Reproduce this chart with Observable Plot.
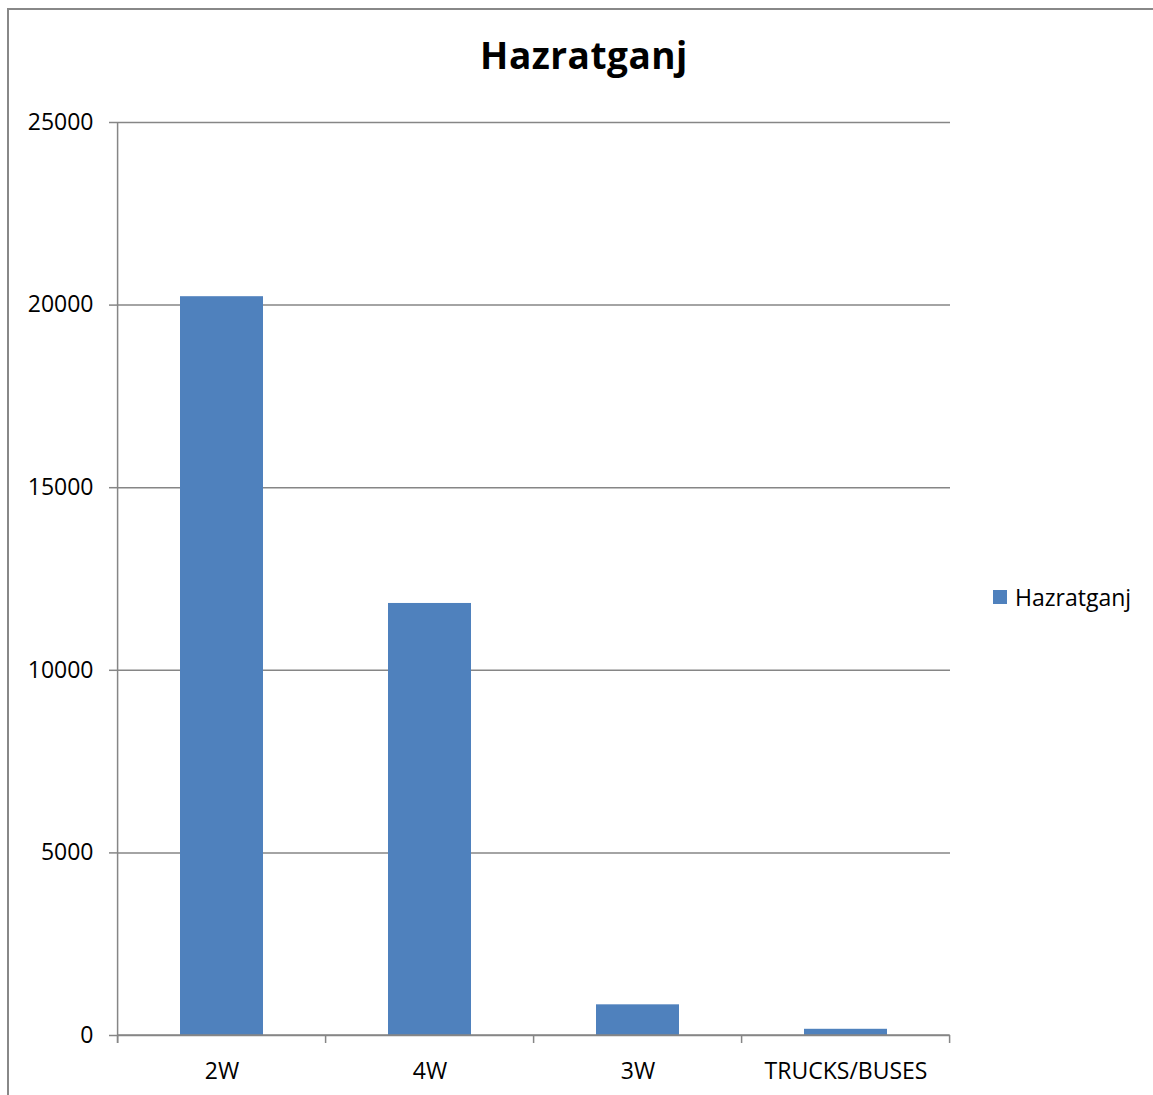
<!DOCTYPE html>
<html>
<head>
<meta charset="utf-8">
<script src="https://cdn.jsdelivr.net/npm/d3@7"></script>
<script src="https://cdn.jsdelivr.net/npm/@observablehq/plot@0.6"></script>
<style>
  html, body { margin: 0; padding: 0; background: #fff; overflow: hidden; width: 1153px; height: 1095px; }
  #wrap { position: relative; width: 1153px; height: 1095px; font-family: "Open Sans", sans-serif; }
  #border { position: absolute; left: 7px; top: 8px; width: 1300px; height: 1300px; border: 2px solid #888; box-sizing: border-box; }
  #title { position: absolute; left: 0; width: 1168px; top: 29px; text-align: center; font-size: 37px; font-weight: bold; color: #000; letter-spacing: 0.5px; }
  #legend { position: absolute; left: 993px; top: 581px; font-size: 23px; color: #000; display: flex; align-items: center; }
  #legend .sw { width: 14px; height: 14px; background: #4F81BD; margin-right: 8px; }
  #chart { position: absolute; left: 0; top: 0; }
</style>
</head>
<body>
<div id="wrap">
  <div id="border"></div>
  <div id="chart"></div>
  <div id="title">Hazratganj</div>
  <div id="legend"><div class="sw"></div><span>Hazratganj</span></div>
</div>
<script>
const categories = ["2W", "4W", "3W", "TRUCKS/BUSES"];
const values = [20230, 11830, 840, 170];
const yTicks = [0, 5000, 10000, 15000, 20000, 25000];
const seriesName = "Hazratganj";

const data = categories.map((c, i) => ({category: c, value: values[i], series: seriesName}));
const gray = "#868686";

const boundaries = (index, scales, values, dimensions) => {
  const g = d3.create("svg:g");
  const step = scales.x(categories[1]) - scales.x(categories[0]);
  const gapHalf = step * 0.3;
  const y0 = scales.y(0);
  const xs = categories.map(c => scales.x(c) - gapHalf);
  xs.push(scales.x(categories[categories.length - 1]) + step - gapHalf);
  for (const x of xs) {
    g.append("line").attr("x1", x).attr("x2", x).attr("y1", y0).attr("y2", y0 + 8)
      .attr("stroke", gray).attr("stroke-width", 1.5);
  }
  g.append("line").attr("x1", xs[0]).attr("x2", xs[0])
    .attr("y1", scales.y(yTicks[yTicks.length - 1])).attr("y2", y0 + 8)
    .attr("stroke", gray).attr("stroke-width", 1.5);
  g.append("line").attr("x1", xs[0]).attr("x2", xs[xs.length - 1])
    .attr("y1", y0).attr("y2", y0)
    .attr("stroke", gray).attr("stroke-width", 1.5);
  return g.node();
};

const plot = Plot.plot({
  width: 1153,
  height: 1095,
  marginLeft: 117,
  marginRight: 203,
  marginTop: 122,
  marginBottom: 60,
  style: {fontFamily: "Open Sans, sans-serif", fontSize: "23px", color: "#000", background: "transparent"},
  x: {domain: categories, paddingInner: 0.6, paddingOuter: 0.3, label: null},
  y: {domain: [0, 25000], label: null},
  marks: [
    Plot.gridY(yTicks, {stroke: gray, strokeOpacity: 1, strokeWidth: 1.5}),
    Plot.barY(data, {x: "category", y: "value", fill: "#4F81BD"}),
    boundaries,
    Plot.axisY(yTicks, {tickSize: 8, tickPadding: 16, stroke: gray, strokeOpacity: 1, strokeWidth: 1.5, tickFormat: d => String(d), fontSize: 23, fill: "#000"}),
    Plot.axisX({tickSize: 0, tickPadding: 27, fontSize: 23, fill: "#000"})
  ]
});
document.getElementById("chart").appendChild(plot);
</script>
</body>
</html>
